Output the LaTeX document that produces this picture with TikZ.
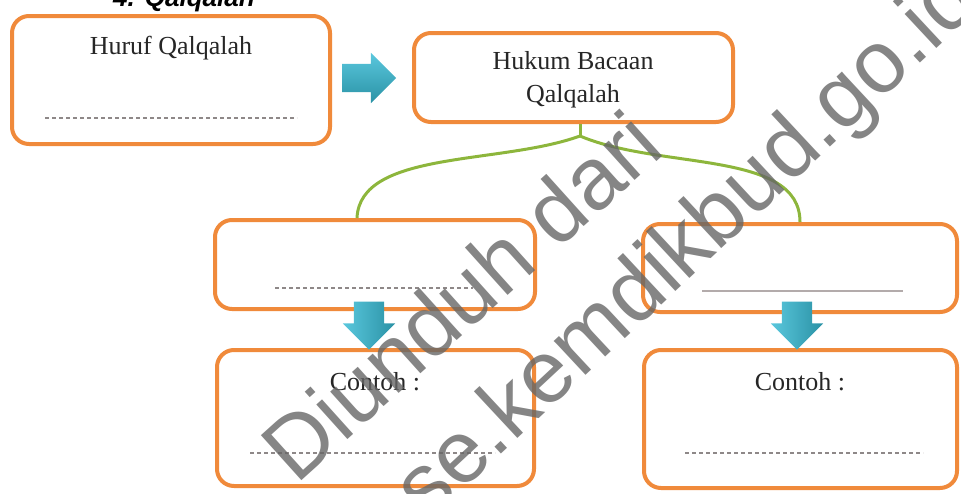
\documentclass[tikz,border=0pt]{standalone}
\usepackage{fontspec}
\setmainfont{Liberation Serif}
\setsansfont{Liberation Sans}
\usetikzlibrary{shapes.arrows}
\definecolor{boxorange}{HTML}{F08A3B}
\definecolor{twiggreen}{HTML}{8DB63C}
\definecolor{dotgray}{HTML}{8E8888}
\definecolor{linegray}{HTML}{B3ABAB}
\definecolor{arrowtop}{HTML}{5AC7DD}
\definecolor{arrowbot}{HTML}{2A92A5}
\begin{document}
\begin{tikzpicture}[x=1pt, y=-1pt,
    kotak/.style={draw=boxorange, line width=4pt, rounded corners=17pt, inner sep=0pt},
    tulisan/.style={font=\fontsize{26}{33}\selectfont, text=black!85, inner sep=0pt, align=center},
    titik/.style={dotgray, line width=2.5pt, dash pattern=on 4pt off 3pt},
    ranting/.style={twiggreen, line width=3pt},
    panah/.style={single arrow, inner xsep=0pt, inner ysep=14pt, draw=none, single arrow head extend=11pt},
    capunduh/.style={font=\sffamily\fontsize{88}{100}\selectfont, text=black!60, text opacity=0.8, inner sep=0pt, anchor=base west}]
    \useasboundingbox (0,0) rectangle (961,493);

    \node[font=\sffamily\bfseries\itshape\fontsize{26}{30}\selectfont, anchor=base west, inner sep=0pt] (judul) at (113,6) {4.\hspace{10pt}Qalqalah};

    \node[kotak, minimum width=318pt, minimum height=128pt] (huruf) at (171,80) {};
    \node[kotak, minimum width=319pt, minimum height=89pt] (hukum) at (573.5,77.5) {};
    \node[kotak, minimum width=320pt, minimum height=89pt] (jenisA) at (375,264.5) {};
    \node[kotak, minimum width=314pt, minimum height=88pt] (jenisB) at (800,268) {};
    \node[kotak, minimum width=317pt, minimum height=136pt] (contohA) at (375.5,418) {};
    \node[kotak, minimum width=313pt, minimum height=138pt] (contohB) at (800.5,419) {};

    \node[tulisan] (hurufteks) at (171,48) {Huruf Qalqalah};
    \node[tulisan] (hukumteks) at (573,80) {Hukum Bacaan\\Qalqalah};
    \node[tulisan] (contohAteks) at (375,382) {Contoh :};
    \node[tulisan] (contohBteks) at (800,382) {Contoh :};

    \draw[titik] (45,118) -- (297,118);
    \draw[titik] (275,288) -- (473,288);
    \draw[linegray, line width=2pt] (702,291) -- (903,291);
    \draw[titik] (250,453) -- (495,453);
    \draw[titik] (685,453) -- (923,453);

    \node[panah, minimum height=54pt, top color=arrowtop, bottom color=arrowbot] (lanjut) at (362,78) {};
    \node[panah, inner ysep=15pt, minimum height=48pt, rotate=-90, left color=arrowtop, right color=arrowbot] (turunA) at (369,318) {};
    \node[panah, inner ysep=15pt, minimum height=48pt, rotate=-90, left color=arrowtop, right color=arrowbot] (turunB) at (797,318) {};

    \coordinate (cabang) at (580,136);
    \draw[ranting] (hukum.south -| cabang) -- (cabang);
    \draw[ranting] (cabang) .. controls (500,165) and (360,150) .. ([xshift=-18pt]jenisA.north);
    \draw[ranting] (cabang) .. controls (660,170) and (800,150) .. (jenisB.north);

    \node[capunduh, rotate=42] (unduh1) at (296,486) {Diunduh dari};
    \node[capunduh, rotate=43] (unduh2) at (392,556) {bse.kemdikbud.go.id};
\end{tikzpicture}
\end{document}
